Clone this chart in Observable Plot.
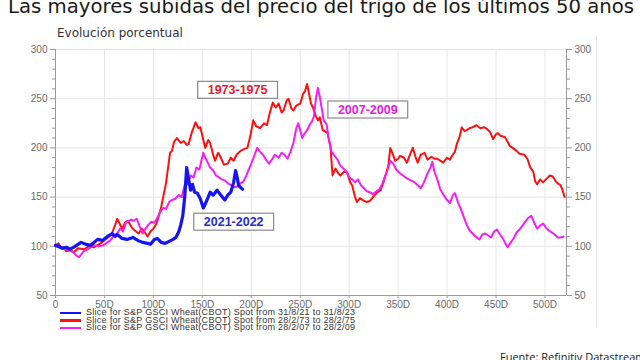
<!DOCTYPE html>
<html><head><meta charset="utf-8">
<script src="https://cdn.jsdelivr.net/npm/d3@7"></script>
<script src="https://cdn.jsdelivr.net/npm/@observablehq/plot@0.6"></script>
<style>
html,body{margin:0;padding:0;background:#fff}
#wrap{position:relative;width:640px;height:360px;overflow:hidden}
#title{position:absolute;left:8px;top:-3px;font-family:"DejaVu Sans",sans-serif;font-size:19.7px;line-height:1;color:#1a1a1a;white-space:nowrap}
#sub{position:absolute;left:57px;top:27px;font-family:"DejaVu Sans",sans-serif;font-size:12px;line-height:1;color:#333;white-space:nowrap}
#chart{position:absolute;left:0;top:0}
#legend{position:absolute;left:60px;top:309px;font-family:"Liberation Sans",Arial,sans-serif;font-size:9px;letter-spacing:0.27px;color:#333;line-height:7.6px}
#legend .row{display:flex;align-items:center;white-space:nowrap;height:7.6px}
#legend .sw{display:inline-block;width:21px;height:2.5px;margin-right:5px}
#caption{position:absolute;left:500px;top:351px;font-family:"Open Sans",sans-serif;font-size:11px;line-height:1;color:#222;white-space:nowrap}
#frame{position:absolute;left:596px;top:36px;width:0;height:292px;border-left:1px solid #e2e2e2}
</style></head>
<body><div id="wrap">
<div id="title"></div><div id="sub"></div><div id="chart"></div><div id="frame"></div>
<div id="legend"></div><div id="caption"></div>
</div>
<script>
const titleText = "Las mayores subidas del precio del trigo de los últimos 50 años";
const subtitleText = "Evolución porcentual";
const captionText = "Fuente: Refinitiv Datastream";
const seriesNames = ["2021-2022", "1973-1975", "2007-2009"];
const seriesColors = ["#1414f5", "#ff1010", "#f51ef5"];
const legendLabels = [
  "Slice for S&P GSCI Wheat(CBOT) Spot from 31/8/21 to 31/8/23",
  "Slice for S&P GSCI Wheat(CBOT) Spot from 28/2/73 to 28/2/75",
  "Slice for S&P GSCI Wheat(CBOT) Spot from 28/2/07 to 28/2/09"
];
const xTicks = [0,50,100,150,200,250,300,350,400,450,500];
const yTicks = [50,100,150,200,250,300];

// 2021-2022 (blue)
const blueDay = [0,3,7,11,15,20,26,31,36,43,48,53,58,61,63,68,73,79,84,89,94,97,101,104,108,112,116,120,123,126,128,130,132,134,136,138,140,142,145,148,151,153,156,158,161,165,169,173,176,179,182,184,186,187,189,191];
const blueVal = [101,100,98,99,97,100,104,102,101,107,106,110,113,110,112,108,107,109,106,104,103,102,107,108,104,103,105,107,109,115,122,131,150,180,168,157,163,155,154,148,139,143,150,155,152,157,152,147,152,155,165,177,168,162,160,158];

// 1973-1975 (red)
const redDay = [0,3,6,8,11,15,19,23,29,34,39,46,51,55,58,61,63,66,68,71,74,78,81,85,88,90,94,97,100,103,105,108,110,113,115,117,119,121,124,128,131,134,136,139,143,146,148,151,153,156,158,161,163,166,168,172,176,179,182,185,189,193,196,199,202,205,209,213,216,219,222,225,228,231,233,236,238,241,243,246,250,253,255,257,259,261,263,266,268,270,273,278,281,283,286,289,291,295,298,301,303,306,308,311,314,318,321,326,329,332,335,338,340,342,344,347,350,352,356,359,362,365,368,370,373,377,380,384,387,390,393,396,400,403,405,408,410,413,415,418,420,423,426,430,434,438,441,444,447,450,452,455,459,462,464,467,471,474,479,482,485,488,490,492,495,498,502,505,508,511,513,516,518,520];
const redVal = [101,103,98,99,95,96,94,98,97,100,99,103,107,110,114,122,128,122,118,124,126,119,116,113,118,116,110,115,118,123,129,140,150,165,180,195,197,206,210,205,207,203,204,215,226,220,221,208,200,208,205,193,187,195,192,183,184,190,187,193,197,199,200,212,228,222,220,225,223,236,246,241,245,236,238,248,250,240,238,243,245,255,258,265,255,245,241,232,228,231,218,215,200,172,179,174,172,176,175,165,162,150,145,149,147,145,146,152,155,157,165,175,182,200,195,187,189,192,190,185,193,200,190,185,193,195,188,191,189,189,187,185,190,188,192,196,204,212,221,217,218,220,221,223,220,221,219,216,209,214,215,212,211,206,202,200,197,194,193,189,180,176,166,163,168,165,169,172,171,166,164,162,157,150];

// 2007-2009 (magenta)
const magDay = [0,3,7,11,15,19,22,24,29,33,39,44,49,53,56,59,63,66,69,72,77,80,83,86,89,92,95,98,101,104,107,110,113,116,119,122,126,129,132,135,138,141,144,147,149,151,153,155,158,161,164,167,170,173,176,180,183,186,189,192,195,197,200,203,206,209,212,215,218,221,224,228,231,234,237,240,243,246,248,250,252,254,257,260,262,264,266,268,270,272,274,277,279,282,285,288,291,294,297,300,303,306,309,312,315,318,321,324,328,331,334,337,339,342,345,348,352,355,359,363,367,370,373,376,380,383,385,387,390,393,396,399,403,406,408,411,414,417,420,423,426,430,433,436,439,442,445,448,451,454,457,460,462,465,468,471,474,477,480,483,486,489,492,495,498,501,504,507,510,513,516,519];
const magVal = [100,99,98,97,96,93,90,89,95,97,101,100,101,104,106,110,113,118,115,124,127,126,128,120,113,118,122,125,124,129,135,139,138,145,147,148,152,150,162,163,172,170,180,178,187,195,190,186,180,177,172,170,168,167,164,162,160,161,164,166,172,177,184,192,200,196,193,188,184,188,193,190,195,193,189,196,205,220,225,218,210,214,218,224,227,232,250,261,252,240,228,224,210,196,192,188,182,179,176,170,168,165,168,162,159,156,155,153,156,158,164,172,177,187,184,178,174,172,169,167,165,162,159,164,174,180,186,176,168,158,153,148,144,152,154,145,138,130,122,116,113,109,107,112,113,111,109,115,117,112,108,102,99,104,108,114,117,121,125,129,131,124,118,121,123,119,116,114,112,109,109,110];

// annotation labels (positions in data units)
const annoText = ["1973-1975", "2007-2009", "2021-2022"];
const annoDay = [186, 319, 182];
const annoVal = [259, 239, 125];
const annoColor = ["#e8202a", "#e020e0", "#2a2ac8"];

const toRows = (d, v) => d.map((x, i) => ({day: x, val: v[i]}));
const blue = toRows(blueDay, blueVal);
const red = toRows(redDay, redVal);
const mag = toRows(magDay, magVal);
const annos = annoText.map((t, i) => ({t, day: annoDay[i], val: annoVal[i], c: annoColor[i]}));
const yMinor = d3.range(50, 301, 10).filter(v => v % 50 !== 0);

document.getElementById("title").textContent = titleText;
document.getElementById("sub").textContent = subtitleText;
document.getElementById("caption").textContent = captionText;
const lg = document.getElementById("legend");
legendLabels.forEach((l, i) => {
  const r = document.createElement("div"); r.className = "row";
  const s = document.createElement("span"); s.className = "sw"; s.style.background = seriesColors[i];
  const t = document.createElement("span"); t.textContent = l;
  r.appendChild(s); r.appendChild(t); lg.appendChild(r);
});

const axisStyle = {stroke: "#9a9a9a", fill: "#6a6a6a", label: null};
const chart = Plot.plot({
  width: 640, height: 360,
  marginTop: 49, marginBottom: 65, marginLeft: 55, marginRight: 74,
  x: {domain: [0, 522]},
  y: {domain: [50, 300]},
  style: {fontFamily: "'Liberation Sans', Arial, sans-serif", fontSize: "10px", background: "transparent", overflow: "visible"},
  marks: [
    Plot.gridX(xTicks, {stroke: "#e6e6e6", strokeOpacity: 1}),
    Plot.gridY(yTicks, {stroke: "#e6e6e6", strokeOpacity: 1}),
    Plot.ruleX([0, 522], {stroke: "#9a9a9a"}),
    Plot.ruleY([50], {stroke: "#9a9a9a"}),
    Plot.axisY(yMinor, {anchor: "left", tickSize: 3, text: null, ...axisStyle}),
    Plot.axisY(yTicks, {anchor: "left", tickSize: 5, tickPadding: 3, ...axisStyle}),
    Plot.axisY(yMinor, {anchor: "right", tickSize: 3, text: null, ...axisStyle}),
    Plot.axisY(yTicks, {anchor: "right", tickSize: 5, tickPadding: 3, ...axisStyle}),
    Plot.axisX(xTicks, {anchor: "bottom", tickSize: 3, tickPadding: 2, tickFormat: d => d === 0 ? "0" : d + "D", ...axisStyle}),
    Plot.line(red, {x: "day", y: "val", stroke: seriesColors[1], strokeWidth: 2}),
    Plot.line(mag, {x: "day", y: "val", stroke: seriesColors[2], strokeWidth: 2}),
    Plot.line(blue, {x: "day", y: "val", stroke: seriesColors[0], strokeWidth: 3.2}),
    Plot.text(annos, {x: "day", y: "val", text: "t", fill: "c", fontWeight: "bold", fontSize: 12.5, fontFamily: "'Liberation Sans', Arial, sans-serif"})
  ]
});
document.getElementById("chart").appendChild(chart);
// draw boxes around annotation labels, sized from the rendered text
d3.select(chart).selectAll("text")
  .filter(function() { return annoText.includes(this.textContent); })
  .each(function() {
    const b = this.getBBox();
    const tr = this.getAttribute("transform");
    const r = document.createElementNS("http://www.w3.org/2000/svg", "rect");
    r.setAttribute("x", b.x - 10); r.setAttribute("y", b.y - 1.5);
    r.setAttribute("width", b.width + 20); r.setAttribute("height", b.height + 3);
    r.setAttribute("fill", "#fff"); r.setAttribute("stroke", "#8a8a8a"); r.setAttribute("stroke-width", "1.2");
    if (tr) r.setAttribute("transform", tr);
    this.parentNode.insertBefore(r, this);
  });
</script>
</body></html>
